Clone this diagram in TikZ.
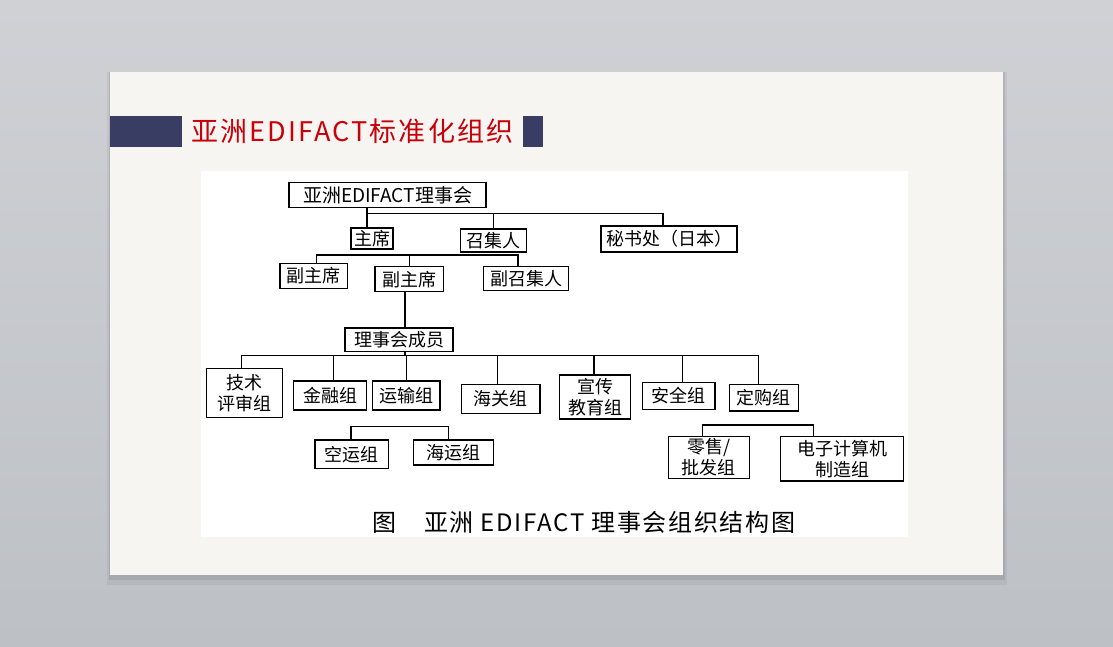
\documentclass[tikz,border=0pt]{standalone}
\usepackage{fontspec}
\usepackage{xcolor}
\usepackage{tikz}
\newfontfamily\cjkfont{Noto Sans CJK SC}
\newfontfamily\titlefont{Noto Sans CJK SC}[LetterSpace=8]
\newfontfamily\captionfont{Noto Sans CJK SC}[LetterSpace=7]
\definecolor{SlideGrayTop}{RGB}{207, 209, 213}
\definecolor{SlideGrayBottom}{RGB}{189, 192, 197}
\definecolor{PaperWhite}{RGB}{246, 245, 241}
\definecolor{BarNavy}{RGB}{57, 61, 99}
\definecolor{TitleRed}{RGB}{200, 0, 10}
\tikzset{
    orgbox/.style={draw, line width=1.2pt, inner sep=0pt, align=center, font=\cjkfont\fontsize{18}{21}\selectfont},
    link/.style={line width=1.3pt},
}

\begin{document}
\begin{tikzpicture}[x=1pt, y=-1pt]
            \useasboundingbox (0,0) rectangle (1113,647);
            \fill[top color=SlideGrayTop, bottom color=SlideGrayBottom] (0,0) rectangle (1113,647);
            \fill[black, opacity=0.05] (107,72) rectangle (1007,585);
            \fill[black, opacity=0.08] (109,72) rectangle (1005,580);
            \fill[PaperWhite] (110,72) rectangle (1003,575);
            \fill[BarNavy] (110,116) rectangle (181.5,147);
            \fill[BarNavy] (523,116) rectangle (543,147);
            \node[anchor=west, text=TitleRed, inner sep=0pt, font=\titlefont\fontsize{27}{30}\selectfont] (title) at (191,131) {亚洲EDIFACT标准化组织};
            \fill[white] (201,171) rectangle (908,537);

            \node[orgbox, minimum width=197pt, minimum height=25pt, font=\cjkfont\fontsize{19}{21}\selectfont] (council) at (387.5,195) {亚洲EDIFACT理事会};
            \node[orgbox, minimum width=42pt, minimum height=21pt] (chair) at (372,238.5) {主席};
            \node[orgbox, minimum width=66pt, minimum height=23pt] (convener) at (493.5,240.5) {召集人};
            \node[orgbox, minimum width=136pt, minimum height=26pt] (secretariat) at (669,239) {秘书处（日本）};
            \node[orgbox, minimum width=67.5pt, minimum height=25pt] (vicechairA) at (313.75,276) {副主席};
            \node[orgbox, minimum width=68.5pt, minimum height=25pt] (vicechairB) at (409.25,279.25) {副主席};
            \node[orgbox, minimum width=85pt, minimum height=23.5pt] (viceconvener) at (526,278.5) {副召集人};
            \node[orgbox, minimum width=108pt, minimum height=23.5pt] (members) at (399,339.75) {理事会成员};

            \node[orgbox, minimum width=76pt, minimum height=49.4pt] (tech) at (244.7,393) {技术\\评审组};
            \node[orgbox, minimum width=73.4pt, minimum height=29pt] (finance) at (330,395.5) {金融组};
            \node[orgbox, minimum width=67.3pt, minimum height=29pt] (transport) at (406.35,395.5) {运输组};
            \node[orgbox, minimum width=78.3pt, minimum height=29pt] (customs) at (500.85,398.8) {海关组};
            \node[orgbox, minimum width=71.4pt, minimum height=44pt] (publicity) at (595,397) {宣传\\教育组};
            \node[orgbox, minimum width=72.3pt, minimum height=27pt] (security) at (678.85,395.8) {安全组};
            \node[orgbox, minimum width=69pt, minimum height=26.7pt] (purchase) at (763.8,397.65) {定购组};
            \node[orgbox, minimum width=73.3pt, minimum height=28.3pt] (airgroup) at (351.65,454.15) {空运组};
            \node[orgbox, minimum width=80pt, minimum height=25pt] (seagroup) at (453.3,452.5) {海运组};
            \node[orgbox, minimum width=81pt, minimum height=41.6pt] (retail) at (708.8,457.5) {零售/\\批发组};
            \node[orgbox, minimum width=122.6pt, minimum height=44.3pt] (computer) at (842,458.85) {电子计算机\\制造组};

            \coordinate (topbus) at (367,213.5);
            \draw[link] (council.south -| topbus) -- (topbus) -| ([xshift=-6pt]secretariat.north);
            \draw[link] (topbus) -- (chair.north -| topbus);
            \draw[link] (topbus -| convener.north) -- (convener.north);

            \coordinate (vicebus) at (409.25,255);
            \draw[link] ([xshift=3pt]vicechairA.north) |- (vicebus) -| ([xshift=-8pt]viceconvener.north);
            \draw[link] (vicebus) -- (vicechairB.north);

            \coordinate (memberbus) at (405,355.7);
            \draw[link] (vicechairB.south -| memberbus) -- (members.north -| memberbus);
            \draw[link] (members.south -| memberbus) -- (memberbus);
            \foreach \group/\dx in {tech/-3, finance/3.3, transport/0.35, customs/-3.15, publicity/-1, security/3.85, purchase/-5.5}
                \draw[link] ([xshift=\dx pt]\group.north) |- (memberbus);

            \coordinate (airseabus) at (400,426.7);
            \draw[link] ([xshift=-0.65pt]airgroup.north) |- (airseabus) -| ([xshift=-5pt]seagroup.north);
            \coordinate (retailbus) at (760,425);
            \draw[link] ([xshift=-6pt]retail.north) |- (retailbus) -| ([xshift=-28.7pt]computer.north);

            \node[anchor=west, inner sep=0pt, font=\captionfont\fontsize{24}{26}\selectfont] (caption) at (372,522) {图\hspace{28pt}亚洲 EDIFACT 理事会组织结构图};
        \end{tikzpicture}
\end{document}
